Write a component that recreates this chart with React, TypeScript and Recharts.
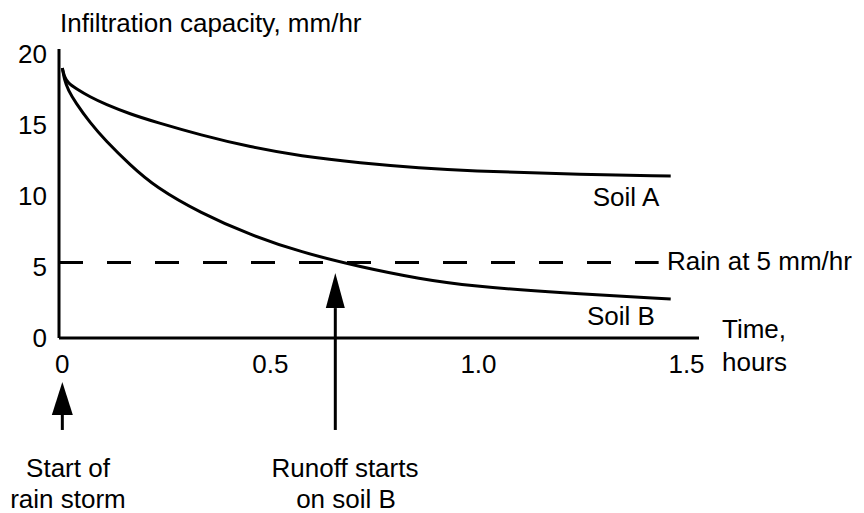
import { Line, LineChart, ReferenceLine, XAxis, YAxis } from 'recharts';

// time in hours, infiltration capacity in mm/hr
const time = [0, 0.005, 0.014, 0.031, 0.067, 0.103, 0.163, 0.224, 0.332, 0.452, 0.572, 0.716, 0.861, 0.981, 1.197, 1.462];
const soilA = [18.96, 18.33, 17.91, 17.56, 16.92, 16.43, 15.73, 15.17, 14.26, 13.41, 12.78, 12.29, 11.94, 11.73, 11.52, 11.38];
const soilB = [18.96, 18.12, 17.42, 16.57, 15.1, 13.9, 12.15, 10.6, 8.78, 7.23, 6.04, 4.99, 4.14, 3.65, 3.16, 2.74];

const xTicks = [0, 0.5, 1, 1.5];
const yTicks = [0, 5, 10, 15, 20];

const rainRate = 5.3;
const rainLineEnd = 1.433;
const stormStart = 0;
const runoffStart = 0.656;
const arrowBottom = -6.46;
const stormArrowTip = -3.09;
const runoffArrowTip = 4.56;

const data = time.map((t, i) => ({ t, a: soilA[i], b: soilB[i] }));

const FONT = '"Liberation Sans", Arial, sans-serif';
const tickStyle = { fontSize: 26, fill: '#000', fontFamily: FONT };

function arrowShape(headW: number, headH: number) {
  return (props: any) => {
    const { x1, y1, y2 } = props;
    const tipY = Math.min(y1, y2);
    const baseY = Math.max(y1, y2);
    const x = x1;
    return (
      <g>
        <line x1={x} y1={baseY} x2={x} y2={tipY + headH} stroke="#000" strokeWidth={3} />
        <polygon
          points={`${x},${tipY} ${x - headW / 2},${tipY + headH} ${x + headW / 2},${tipY + headH}`}
          fill="#000"
        />
      </g>
    );
  };
}

export default function App() {
  return (
    <div style={{ position: 'absolute', left: 0, top: 0, width: 864, height: 513, background: '#fff' }}>
      <LineChart width={864} height={513} data={data} margin={{ top: 49, right: 165, bottom: 145, left: 0 }}>
        <XAxis
          dataKey="t"
          type="number"
          domain={[-0.008, 1.53]}
          ticks={xTicks}
          interval={0}
          allowDataOverflow
          height={30}
          tickLine={false}
          tickSize={0}
          tickMargin={17}
          tick={tickStyle}
          tickFormatter={(v: number) => (v === 0 ? '0' : v.toFixed(1))}
          axisLine={{ stroke: '#000', strokeWidth: 3 }}
        />
        <YAxis
          type="number"
          domain={[0, 20.3]}
          ticks={yTicks}
          interval={0}
          allowDataOverflow
          width={59}
          tickLine={false}
          tickSize={0}
          tickMargin={12}
          tick={tickStyle}
          axisLine={{ stroke: '#000', strokeWidth: 3 }}
        />
        <ReferenceLine
          segment={[{ x: -0.008, y: rainRate }, { x: rainLineEnd, y: rainRate }]}
          stroke="#000"
          strokeWidth={3}
          strokeDasharray="24 24"
          ifOverflow="visible"
        />
        <ReferenceLine
          segment={[{ x: stormStart, y: arrowBottom }, { x: stormStart, y: stormArrowTip }]}
          ifOverflow="visible"
          shape={arrowShape(21, 33)}
        />
        <ReferenceLine
          segment={[{ x: runoffStart, y: arrowBottom }, { x: runoffStart, y: runoffArrowTip }]}
          ifOverflow="visible"
          shape={arrowShape(19, 35)}
        />
        <Line type="basis" dataKey="a" stroke="#000" strokeWidth={3} dot={false} isAnimationActive={false} />
        <Line type="basis" dataKey="b" stroke="#000" strokeWidth={3} dot={false} isAnimationActive={false} />
      </LineChart>
      <svg
        width={864}
        height={513}
        style={{ position: 'absolute', left: 0, top: 0, pointerEvents: 'none' }}
        fontFamily={FONT}
        fontSize={26}
        fill="#000"
      >
        <text x={60} y={32}>Infiltration capacity, mm/hr</text>
        <text x={626} y={206} textAnchor="middle">Soil A</text>
        <text x={621} y={325} textAnchor="middle">Soil B</text>
        <text x={667} y={270}>Rain at 5 mm/hr</text>
        <text x={722} y={338}>Time,</text>
        <text x={722} y={371}>hours</text>
        <text x={68} y={477} textAnchor="middle">Start of</text>
        <text x={68} y={508} textAnchor="middle">rain storm</text>
        <text x={345} y={477} textAnchor="middle">Runoff starts</text>
        <text x={346} y={508} textAnchor="middle">on soil B</text>
      </svg>
    </div>
  );
}
